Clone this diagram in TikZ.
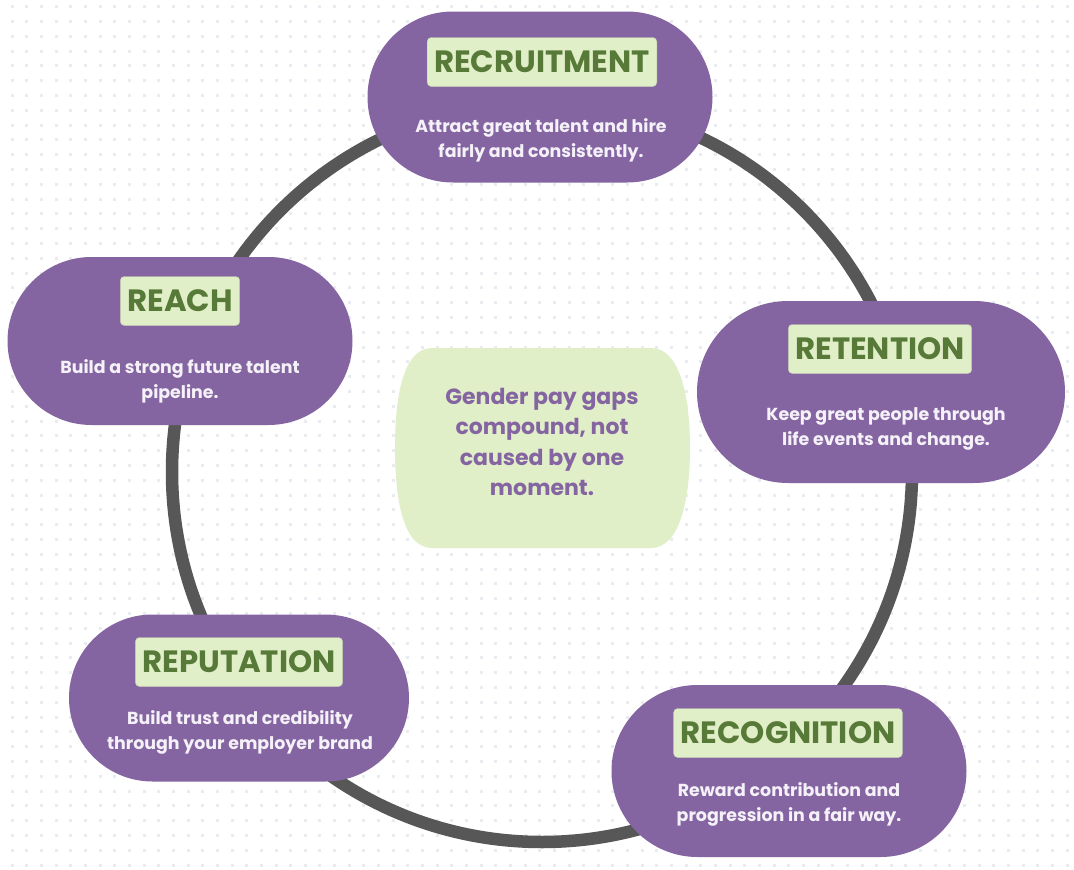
\documentclass[tikz,border=0pt]{standalone}
\usepackage{fontspec}
\setmainfont{Poppins}
\usetikzlibrary{calc}
\definecolor{pillc}{HTML}{8465A1}
\definecolor{labbg}{HTML}{E1EFC9}
\definecolor{labtx}{HTML}{587A38}
\definecolor{desctx}{HTML}{F5F1F8}
\definecolor{ringc}{HTML}{575757}
\definecolor{dotc}{HTML}{E9EBF0}
\tikzset{
  pill/.style args={#1x#2}{fill=pillc, draw=none, minimum width=#1pt, minimum height=#2pt, rounded corners=#2/2*1pt, inner sep=0pt},
  lab/.style={fill=labbg, draw=labbg!85!black, line width=0.4pt, rounded corners=4pt, text=labtx, font=\bfseries\fontsize{30.8}{33}\selectfont, inner xsep=7pt, minimum height=49pt, text height=21.8pt, text depth=0pt},
  desc/.style={text=desctx, align=center, font=\bfseries\fontsize{17.4}{25}\selectfont, inner sep=0pt},
  ring/.style={draw=ringc, line width=12.5pt},
}
\begin{document}
\begin{tikzpicture}[x=1pt,y=-1pt]
\useasboundingbox (0,0) rectangle (1074,870);
\fill[white] (0,0) rectangle (1074,870);
% dotted background
\foreach \i in {0,...,72}{
  \foreach \j in {0,...,58}{
    \fill[dotc] ({12.3+14.65*\i-1.5},{6.7+14.8*\j-1.5}) rectangle ++(3,3);
  }
}
% ring
\coordinate (ringc) at (542,472);
\draw[ring] (ringc) circle[radius=370];
% centre shape
\fill[labbg] (432,348) -- (651,348) .. controls (681,348) and (690,400) .. (690,448)
   .. controls (690,496) and (681,548) .. (651,548) -- (432,548)
   .. controls (402,548) and (395,496) .. (395,448)
   .. controls (395,400) and (402,348) .. (432,348) -- cycle;
\node[text=pillc, align=center, font=\bfseries\fontsize{22}{30.5}\selectfont] (centre) at (542,442) {Gender pay gaps\\compound, not\\caused by one\\moment.};
% pills
\node[pill=345x171] (recruit) at (540,97) {};
\node[pill=345x168] (reach) at (180,341) {};
\node[pill=368x182] (retent) at (881,392) {};
\node[pill=340x167] (reput) at (239,698) {};
\node[pill=355x172] (recog) at (789,771) {};
% labels
\node[lab] (recruitL) at (542,62) {RECRUITMENT};
\node[lab] (reachL) at (180,301) {REACH};
\node[lab] (retentL) at (880,349) {RETENTION};
\node[lab] (reputL) at (239,662) {REPUTATION};
\node[lab] (recogL) at (788,733) {RECOGNITION};
% descriptions
\node[desc] (recruitD) at (541,140) {Attract great talent and hire\\fairly and consistently.};
\node[desc] (reachD) at (180,381) {Build a strong future talent\\pipeline.};
\node[desc] (retentD) at (886,429) {Keep great people through\\life events and change.};
\node[desc] (reputD) at (240,732) {Build trust and credibility\\through your employer brand};
\node[desc] (recogD) at (789,804) {Reward contribution and\\progression in a fair way.};
\end{tikzpicture}
\end{document}
